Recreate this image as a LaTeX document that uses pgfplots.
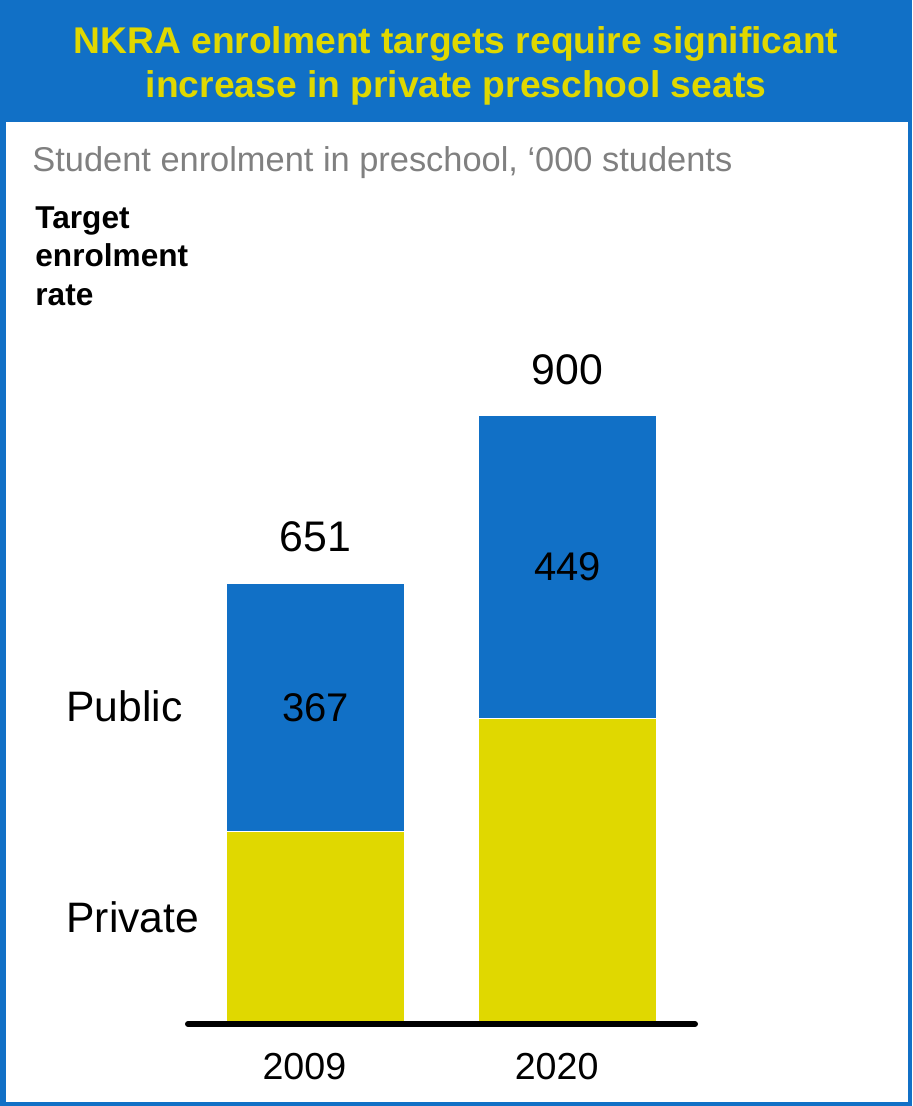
\documentclass[border=0pt]{standalone}
\usepackage{pgfplots}
\pgfplotsset{compat=1.18}
\usepackage{fontspec}
\setmainfont{Liberation Sans}
\definecolor{mblue}{RGB}{17,112,198}
\definecolor{myellow}{RGB}{224,216,0}
\definecolor{mgray}{RGB}{128,128,128}
\begin{document}
\begin{tikzpicture}
\path[use as bounding box] (0,0) rectangle (456pt,553pt);
\fill[white] (0,0) rectangle (456pt,553pt);
\fill[mblue] (0,492pt) rectangle (456pt,553pt);
\draw[mblue, line width=2pt] (1pt,1pt) rectangle (455pt,552pt);
\draw[mblue, line width=1pt] (2.5pt,1pt) -- (2.5pt,492pt);
\node[text=myellow, font=\fontsize{18.6}{21.8}\selectfont\bfseries, align=center] at (228pt,520pt) {NKRA enrolment targets require significant\\increase in private preschool seats};
\node[text=mgray, font=\fontsize{17.2}{20}\selectfont, anchor=west, inner sep=0pt] at (16pt,471.5pt) {Student enrolment in preschool, ‘000 students};
\node[font=\fontsize{15.8}{19.3}\selectfont\bfseries, anchor=north west, align=left, inner sep=0pt] at (17.5pt,450pt) {Target\\enrolment\\rate};
\node[font=\fontsize{21.3}{26}\selectfont, anchor=west, inner sep=0pt] at (33pt,200pt) {Public};
\node[font=\fontsize{21.3}{26}\selectfont, anchor=west, inner sep=0pt] at (33pt,94.5pt) {Private};
\begin{axis}[
  at={(94pt,41pt)}, anchor=south west,
  scale only axis, width=253.5pt, height=338.35pt,
  xmin=-0.505, xmax=1.505, ymin=0, ymax=1000,
  clip=false, axis on top,
  ybar stacked, bar width=89pt,
  axis x line*=bottom, axis y line=none,
  x axis line style={line width=3pt, -, line cap=round},
  xtick={0,1}, xticklabels={2009,2020},
  major tick length=0pt,
  xticklabel style={font=\fontsize{18.8}{22}\selectfont, yshift=-11pt, xshift=-5.5pt},
  ytick=\empty,
]
\addplot[fill=myellow, draw=white, line width=0.6pt] coordinates {(0,284) (1,451)};
\addplot[fill=mblue, draw=white, line width=0.6pt] coordinates {(0,367) (1,449)};
\coordinate (m0) at (axis cs:0,467.5);
\coordinate (m1) at (axis cs:1,675.5);
\coordinate (t0) at (axis cs:0,651);
\coordinate (t1) at (axis cs:1,900);
\end{axis}
\node[font=\fontsize{20}{23}\selectfont] at (m0) {367};
\node[font=\fontsize{20}{23}\selectfont] at (m1) {449};
\node[font=\fontsize{21.4}{24}\selectfont, yshift=23.5pt] at (t0) {651};
\node[font=\fontsize{21.4}{24}\selectfont, yshift=22.5pt] at (t1) {900};
\end{tikzpicture}
\end{document}
